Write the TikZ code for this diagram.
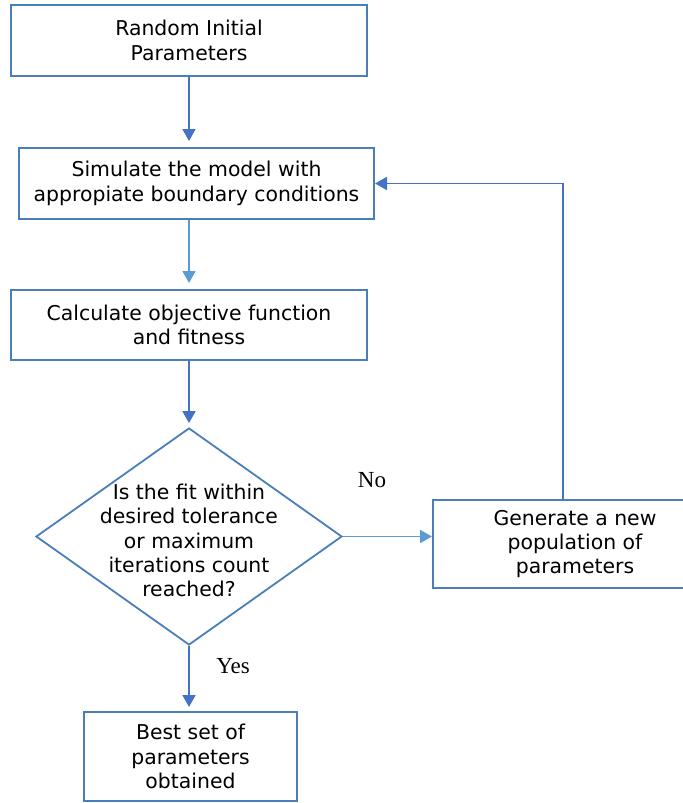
\documentclass[tikz,border=0pt]{standalone}
\usepackage{fontspec}
\setmainfont{DejaVu Sans}
\newfontfamily\labelfont{Liberation Serif}
\usetikzlibrary{positioning,arrows.meta,shapes.geometric,calc}
\definecolor{BoxBlue}{HTML}{4A7EBB}
\definecolor{ArrDark}{HTML}{4472C4}
\definecolor{ArrLight}{HTML}{5B9BD5}

\begin{document}
\begin{tikzpicture}[
  x=0.5pt, y=-0.5pt,
  every node/.style={font=\fontsize{10.2}{12.2}\selectfont},
  procbox/.style={rectangle, draw=BoxBlue, line width=1pt, align=center, inner sep=1pt},
  decision/.style={diamond, draw=BoxBlue, line width=0.9pt, inner sep=0pt, minimum width=153pt, minimum height=108.5pt},
  arr/.style={-{Triangle[length=6pt,width=6.5pt]}, line width=0.9pt, draw=ArrDark},
  arrlight/.style={arr, draw=ArrLight},
  branch/.style={font=\labelfont\fontsize{11.5}{13}\selectfont}
]
\useasboundingbox (0,0) rectangle (683,803);

%% main column
\node[procbox, minimum width=178pt, minimum height=35.5pt] (init) at (189,40.5) {Random Initial\\Parameters};
\node[procbox, minimum width=177.5pt, minimum height=35.5pt] (sim) at (196.5,183.5) {Simulate the model with\\appropiate boundary conditions};
\node[procbox, minimum width=178pt, minimum height=35pt] (calc) at (189,325) {Calculate objective function\\and fitness};
\node[decision] (dec) at (189,536.5) {};
\node[align=center] (dectext) at ($(dec.center)+(0,4)$) {Is the fit within\\desired tolerance\\or maximum\\iterations count\\reached?};
\node[procbox, minimum width=106.5pt, minimum height=44.5pt] (best) at (190.5,756.5) {Best set of\\parameters\\obtained};

%% loop back
\node[procbox, minimum width=142pt, minimum height=44pt] (gen) at (575,544) {Generate a new\\population of\\parameters};
\coordinate (loop) at (563,183.5);

\draw[arr, shorten >=3pt] (init.south) -- (init.south |- sim.north);
\draw[arrlight, shorten >=3pt] (sim.south -| calc) -- (calc.north);
\draw[arr, shorten >=2pt] (calc.south) -- (dec.north);
\draw[arr, shorten >=2pt] (dec.south) -- (dec.south |- best.north);
\draw[arrlight] (dec.east) -- (dec.east -| gen.west);
\draw[arr] (loop |- gen.north) -- (loop) -- (sim.east);

\node[branch] (no) at (372,480) {No};
\node[branch] (yes) at (233,666) {Yes};
\end{tikzpicture}
\end{document}
